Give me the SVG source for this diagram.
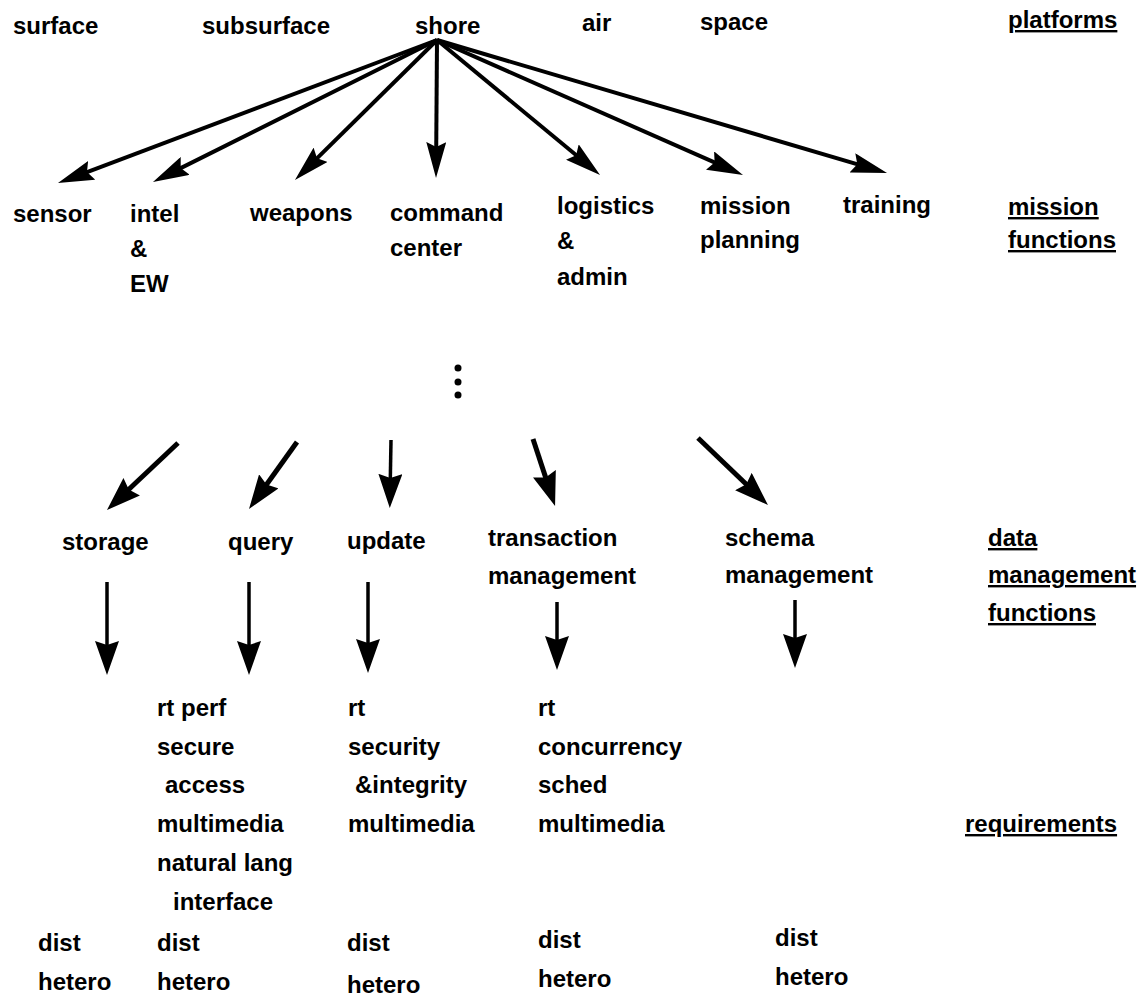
<svg xmlns="http://www.w3.org/2000/svg" width="1147" height="1000" viewBox="0 0 1147 1000">
<style>
text{font-family:"Liberation Sans",Arial,sans-serif;font-weight:bold;font-size:24px;fill:#000}
.u{text-decoration:underline}
.c1{stroke:#000;stroke-width:4;fill:none}
.c2{stroke:#000;stroke-width:5;fill:none}
.c3{stroke:#000;stroke-width:3.5;fill:none}
</style>
<defs>
<marker id="ha" viewBox="0 0 36 20" markerWidth="36" markerHeight="20" refX="24" refY="10" orient="auto" markerUnits="userSpaceOnUse"><path d="M0,0 L36,10 L0,20 L5,10 Z" fill="#000"/></marker>
<marker id="hb" viewBox="0 0 34 24" markerWidth="34" markerHeight="24" refX="22" refY="12" orient="auto" markerUnits="userSpaceOnUse"><path d="M0,0 L34,12 L0,24 L4,12 Z" fill="#000"/></marker>
</defs>
<rect width="1147" height="1000" fill="#fff"/>
<g id="connectors">
<line class="c1" x1="437" y1="40" x2="69.2" y2="178.8" marker-end="url(#ha)"/>
<line class="c1" x1="437" y1="40" x2="163.7" y2="176.6" marker-end="url(#ha)"/>
<line class="c1" x1="437" y1="40" x2="303.5" y2="171.6" marker-end="url(#ha)"/>
<line class="c1" x1="437" y1="40" x2="436.1" y2="166" marker-end="url(#ha)"/>
<line class="c1" x1="437" y1="40" x2="590.8" y2="167.3" marker-end="url(#ha)"/>
<line class="c1" x1="437" y1="40" x2="732" y2="170.2" marker-end="url(#ha)"/>
<line class="c1" x1="437" y1="40" x2="875.5" y2="169.6" marker-end="url(#ha)"/>
<line class="c2" x1="178" y1="443" x2="115.7" y2="501.8" marker-end="url(#hb)"/>
<line class="c2" x1="297" y1="442" x2="256" y2="499.2" marker-end="url(#hb)"/>
<line class="c3" x1="391" y1="440" x2="390" y2="496" marker-end="url(#hb)"/>
<line class="c2" x1="533" y1="439" x2="551.3" y2="494.6" marker-end="url(#hb)"/>
<line class="c2" x1="698" y1="438" x2="759.3" y2="496.7" marker-end="url(#hb)"/>
<line class="c3" x1="107" y1="582" x2="107" y2="663" marker-end="url(#hb)"/>
<line class="c3" x1="249" y1="582" x2="249" y2="663" marker-end="url(#hb)"/>
<line class="c3" x1="368" y1="582" x2="368" y2="661" marker-end="url(#hb)"/>
<line class="c3" x1="557" y1="602" x2="557" y2="658" marker-end="url(#hb)"/>
<line class="c3" x1="795" y1="600" x2="795" y2="656" marker-end="url(#hb)"/>
</g>
<g id="platform-surface"><text x="13" y="34">surface</text></g>
<g id="platform-subsurface"><text x="202" y="34">subsurface</text></g>
<g id="platform-shore"><text x="415" y="34">shore</text></g>
<g id="platform-air"><text x="582" y="31">air</text></g>
<g id="platform-space"><text x="700" y="30">space</text></g>
<g id="label-platforms"><text class="u" x="1008" y="28">platforms</text></g>
<g id="mf-sensor"><text x="13" y="222">sensor</text></g>
<g id="mf-intel"><text x="130" y="222">intel</text><text x="130" y="257">&amp;</text><text x="130" y="292">EW</text></g>
<g id="mf-weapons"><text x="250" y="221">weapons</text></g>
<g id="mf-command"><text x="390" y="221">command</text><text x="390" y="256">center</text></g>
<g id="mf-logistics"><text x="557" y="214">logistics</text><text x="557" y="249">&amp;</text><text x="557" y="285">admin</text></g>
<g id="mf-mission"><text x="700" y="214">mission</text><text x="700" y="248">planning</text></g>
<g id="mf-training"><text x="843" y="213">training</text></g>
<g id="label-mission-functions"><text class="u" x="1008" y="215">mission</text><text class="u" x="1008" y="248">functions</text></g>
<g id="ellipsis"><circle cx="458" cy="368" r="3.5"/><circle cx="458" cy="382" r="3.5"/><circle cx="458" cy="395" r="3.5"/></g>
<g id="dm-storage"><text x="62" y="550">storage</text></g>
<g id="dm-query"><text x="228" y="550">query</text></g>
<g id="dm-update"><text x="347" y="549">update</text></g>
<g id="dm-transaction"><text x="488" y="546">transaction</text><text x="488" y="584">management</text></g>
<g id="dm-schema"><text x="725" y="546">schema</text><text x="725" y="583">management</text></g>
<g id="label-dm-functions"><text class="u" x="988" y="546">data</text><text class="u" x="988" y="583">management</text><text class="u" x="988" y="621">functions</text></g>
<g id="req-storage"><text x="38" y="951">dist</text><text x="38" y="990">hetero</text></g>
<g id="req-query"><text x="157" y="716">rt perf</text><text x="157" y="755">secure</text><text x="165" y="793">access</text><text x="157" y="832">multimedia</text><text x="157" y="871">natural lang</text><text x="173" y="910">interface</text><text x="157" y="951">dist</text><text x="157" y="990">hetero</text></g>
<g id="req-update"><text x="348" y="716">rt</text><text x="348" y="755">security</text><text x="355" y="793">&amp;integrity</text><text x="348" y="832">multimedia</text><text x="347" y="951">dist</text><text x="347" y="993">hetero</text></g>
<g id="req-transaction"><text x="538" y="716">rt</text><text x="538" y="755">concurrency</text><text x="538" y="793">sched</text><text x="538" y="832">multimedia</text><text x="538" y="948">dist</text><text x="538" y="987">hetero</text></g>
<g id="req-schema"><text x="775" y="946">dist</text><text x="775" y="985">hetero</text></g>
<g id="label-requirements"><text class="u" x="965" y="832">requirements</text></g>
</svg>
